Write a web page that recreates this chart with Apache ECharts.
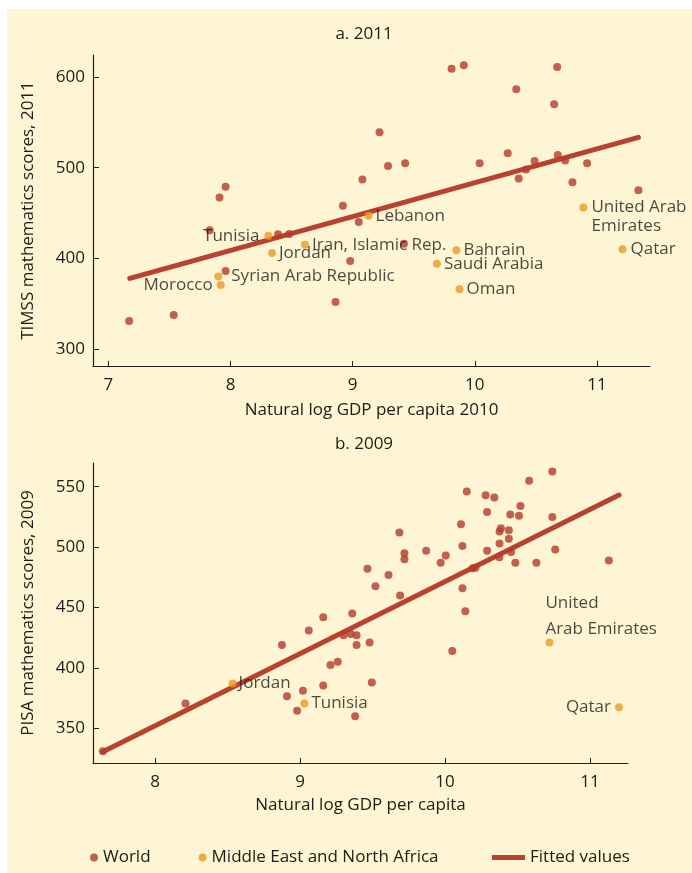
<!DOCTYPE html>
<html><head><meta charset="utf-8">
<script src="https://cdn.jsdelivr.net/npm/echarts@6/dist/echarts.min.js"></script>
<style>
html,body{margin:0;padding:0;background:#fff;}
#bg{position:absolute;left:7px;top:9px;width:685px;height:864px;background:#fdf5d4;}
#c{position:absolute;left:0;top:0;width:692px;height:873px;}
</style>
</head><body><div id="bg"></div><div id="c"></div>
<script>
// ---------- Panel a: TIMSS 2011 ----------
const aXTicks = [7, 8, 9, 10, 11];
const aYTicks = [300, 400, 500, 600];
const aWorld = [[7.17,331],[7.535,337.5],[7.83,431],[7.91,467],[7.96,479],[7.96,386],[8.39,426.5],[8.48,427],
  [8.86,352],[8.92,458],[8.98,397],[9.05,440],[9.08,487],[9.22,539],[9.29,502],[9.42,416],[9.43,505],
  [9.81,609],[9.91,613],[10.04,505],[10.27,516],[10.34,586.5],[10.36,488],[10.42,498],[10.49,507.5],
  [10.65,570],[10.675,611],[10.68,514],[10.74,508],[10.80,484],[10.92,505],[11.34,475]];
const aMenaNames = ['Tunisia','Jordan','Iran, Islamic Rep.','Lebanon','Syrian Arab Republic','Morocco',
  'Bahrain','Saudi Arabia','Oman','United Arab\nEmirates','Qatar'];
const aMenaX = [8.31, 8.34, 8.61, 9.13, 7.90, 7.92, 9.85, 9.69, 9.875, 10.89, 11.21];
const aMenaY = [425, 406, 415, 447, 380, 370.5, 409, 394, 366, 456, 410];
const aFitted = [[7.175,378],[11.34,533.4]];

// ---------- Panel b: PISA 2009 ----------
const bXTicks = [8, 9, 10, 11];
const bYTicks = [350, 400, 450, 500, 550];
const bWorld = [[7.64,331],[8.21,370.5],[8.875,419],[8.91,376.5],[8.98,364.5],[9.02,381],[9.06,431],[9.16,442],
  [9.16,385.5],[9.21,402.5],[9.26,405],[9.30,427],[9.35,428],[9.36,445],[9.38,360],[9.39,427],[9.39,419],
  [9.465,482],[9.48,421],[9.495,388],[9.52,467.5],[9.61,477],[9.685,512],[9.69,460],[9.72,495],[9.72,490],
  [9.87,497],[9.97,487],[10.005,493],[10.05,414],[10.11,519],[10.12,501],[10.12,466],[10.14,447],[10.15,546],
  [10.19,482.5],[10.21,483],[10.28,543],[10.29,529],[10.29,497],[10.34,541],[10.375,491.5],[10.376,503],
  [10.376,513],[10.385,515.5],[10.44,514],[10.44,507],[10.45,527],[10.455,496],[10.485,487],[10.51,526],
  [10.52,534],[10.58,555],[10.63,487],[10.74,562.5],[10.74,525],[10.76,498],[11.13,489]];
const bMenaNames = ['Jordan','Tunisia','United\nArab Emirates','Qatar'];
const bMenaX = [8.535, 9.03, 10.72, 11.2];
const bMenaY = [387, 370.5, 421, 367.5];
const bFitted = [[7.64,330.7],[11.20,543.1]];

// ---------- styles ----------
const RED = '#b5392b', ORANGE = '#eb9a22', LINE = '#b8412f', TXT = '#1f1b18';
const FONT = '"Open Sans", "Noto Sans", sans-serif';
const FS = 17;

const aLabelPos = {
  'Tunisia': {position:'left', distance:5},
  'Jordan': {position:'right', distance:3},
  'Iran, Islamic Rep.': {position:'right', distance:3},
  'Lebanon': {position:'right', distance:3},
  'Syrian Arab Republic': {position:'right', distance:9},
  'Morocco': {position:'left', distance:4},
  'Bahrain': {position:'right', distance:3},
  'Saudi Arabia': {position:'right', distance:3},
  'Oman': {position:'right', distance:3},
  'United Arab\nEmirates': {position:'right', distance:4, offset:[0,9]},
  'Qatar': {position:'right', distance:4}
};
const bLabelPos = {
  'Jordan': {position:'right', distance:2},
  'Tunisia': {position:'right', distance:3},
  'United\nArab Emirates': {position:'top', align:'left', distance:0, offset:[-4,4]},
  'Qatar': {position:'left', distance:4}
};

function menaData(names, xs, ys, pos) {
  return names.map((n, i) => ({
    name: n, value: [xs[i], ys[i]],
    label: Object.assign({show:true, formatter: n, color: TXT, fontSize: FS, fontFamily: FONT,
      lineHeight: (n.indexOf('United') === 0 && pos === bLabelPos) ? 26 : 19}, pos[n])
  }));
}

function xAxis(gi, min, max, ticks, name, gap) {
  return {
    type:'value', gridIndex:gi, min:min, max:max, name:name, nameLocation:'middle', nameGap:gap,
    nameTextStyle:{color:TXT, fontSize:FS, fontFamily:FONT},
    axisLine:{show:true, onZero:false, lineStyle:{color:'#231f20', width:1.2}},
    axisTick:{show:true, inside:true, length:5, customValues:ticks, lineStyle:{color:'#231f20'}},
    axisLabel:{customValues:ticks, color:TXT, fontSize:FS, fontFamily:FONT, margin:11},
    splitLine:{show:false}
  };
}
function yAxis(gi, min, max, ticks, name) {
  return {
    type:'value', gridIndex:gi, min:min, max:max, name:name, nameLocation:'middle', nameGap:56,
    nameTextStyle:{color:TXT, fontSize:FS, fontFamily:FONT},
    axisLine:{show:true, onZero:false, lineStyle:{color:'#231f20', width:1.2}},
    axisTick:{show:true, inside:true, length:6, customValues:ticks, lineStyle:{color:'#231f20'}},
    axisLabel:{customValues:ticks, color:TXT, fontSize:FS, fontFamily:FONT, margin:8},
    splitLine:{show:false}
  };
}

const chart = echarts.init(document.getElementById('c'), null, {renderer:'canvas'});
chart.setOption({
  animation:false,
  title:[
    {text:'a. 2011', left:359, top:21, textAlign:'center', textStyle:{color:TXT, fontSize:FS, fontWeight:'normal', fontFamily:FONT}},
    {text:'b. 2009', left:359, top:431, textAlign:'center', textStyle:{color:TXT, fontSize:FS, fontWeight:'normal', fontFamily:FONT}}
  ],
  grid:[
    {left:93, top:55, width:557, height:311},
    {left:93, top:463, width:535, height:300}
  ],
  xAxis:[
    xAxis(0, 6.874, 11.435, aXTicks, 'Natural log GDP per capita 2010', 36),
    xAxis(1, 7.572, 11.262, bXTicks, 'Natural log GDP per capita', 34)
  ],
  yAxis:[
    yAxis(0, 281.3, 624.3, aYTicks, 'TIMSS mathematics scores, 2011'),
    yAxis(1, 321.3, 569.6, bYTicks, 'PISA mathematics scores, 2009')
  ],
  legend:[
    {data:['World','Middle East and North Africa'], left:85, top:844, icon:'circle', itemWidth:8, itemHeight:8,
     itemGap:48, textStyle:{color:TXT, fontSize:FS, fontFamily:FONT}},
    {data:[{name:'Fitted values', icon:'rect'}], left:487, top:844, itemWidth:33, itemHeight:5,
     textStyle:{color:TXT, fontSize:FS, fontFamily:FONT}}
  ],
  series:[
    {name:'Fitted values', type:'line', xAxisIndex:0, yAxisIndex:0, data:aFitted, showSymbol:false, symbol:'none',
     lineStyle:{color:LINE, width:5, cap:'round'}, itemStyle:{color:LINE}, z:2},
    {name:'World', type:'scatter', xAxisIndex:0, yAxisIndex:0, data:aWorld, symbolSize:8, itemStyle:{color:RED}, z:3},
    {name:'Middle East and North Africa', type:'scatter', xAxisIndex:0, yAxisIndex:0,
     data:menaData(aMenaNames, aMenaX, aMenaY, aLabelPos), symbolSize:8, itemStyle:{color:ORANGE}, z:4},
    {name:'Fitted values', type:'line', xAxisIndex:1, yAxisIndex:1, data:bFitted, showSymbol:false, symbol:'none',
     lineStyle:{color:LINE, width:5, cap:'round'}, itemStyle:{color:LINE}, z:2},
    {name:'World', type:'scatter', xAxisIndex:1, yAxisIndex:1, data:bWorld, symbolSize:8, itemStyle:{color:RED}, z:3},
    {name:'Middle East and North Africa', type:'scatter', xAxisIndex:1, yAxisIndex:1,
     data:menaData(bMenaNames, bMenaX, bMenaY, bLabelPos), symbolSize:8, itemStyle:{color:ORANGE}, z:4}
  ]
});
</script>
</body></html>
